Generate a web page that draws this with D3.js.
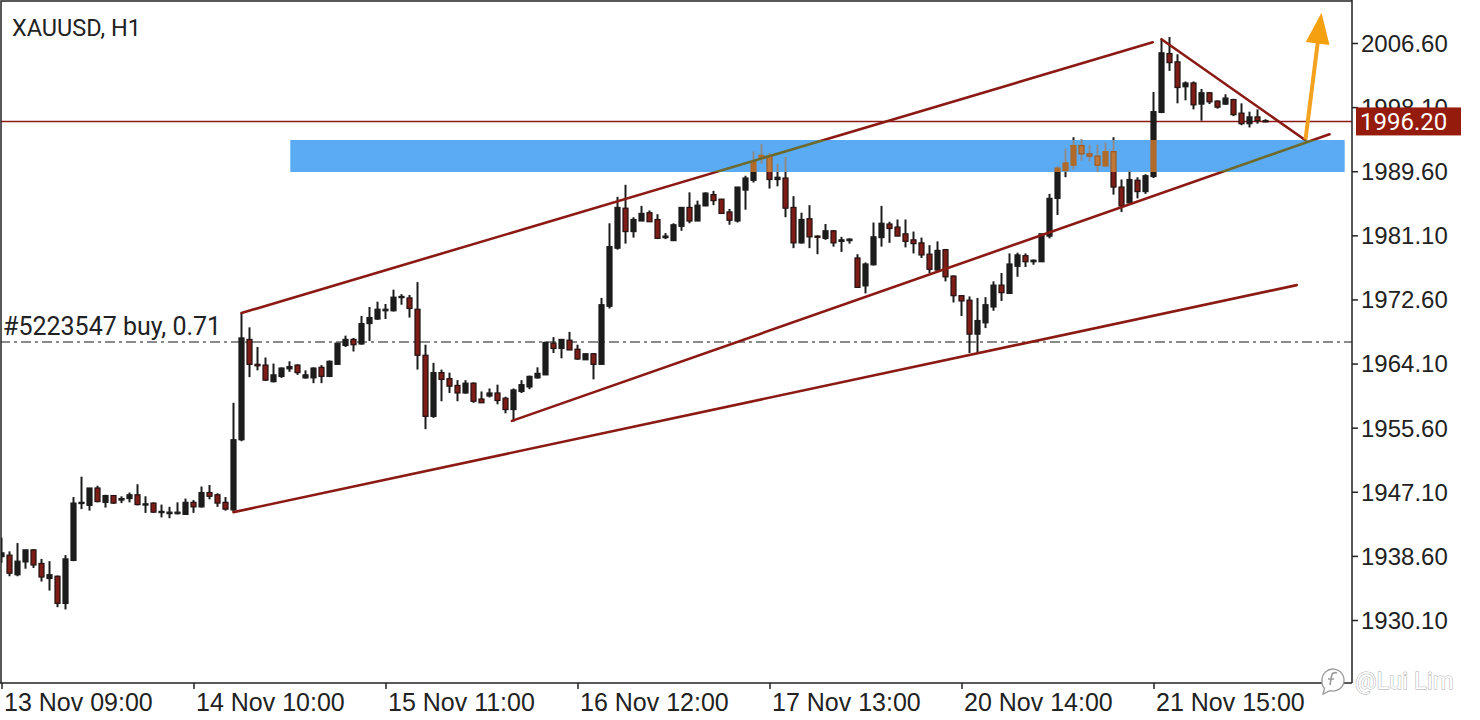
<!DOCTYPE html>
<html><head><meta charset="utf-8">
<script src="https://cdn.jsdelivr.net/npm/d3@7"></script>
<style>
html,body{margin:0;padding:0;background:#fff;}
svg{display:block;font-family:Roboto,"Noto Sans",sans-serif;}
</style>
</head><body>
<svg id="c" width="1480" height="720"></svg>
<script>
// ---- data ----
const symbolTitle = "XAUUSD, H1";
const opens = [1938.5,1938.7,1936.1,1937.8,1939.4,1937.6,1935.6,1935.9,1932.3,1938.0,
1945.6,1945.3,1947.6,1945.7,1946.6,1946.0,1946.2,1946.7,1945.4,1945.6,
1944.4,1944.2,1944.2,1944.1,1945.7,1945.1,1947.0,1946.7,1945.7,1944.7,
1954.0,1967.3,1964.0,1963.9,1961.7,1962.4,1963.4,1963.9,1962.2,1962.2,
1963.6,1962.4,1964.0,1966.5,1967.3,1966.7,1969.4,1970.0,1971.1,1971.1,
1972.9,1972.8,1971.3,1965.2,1957.1,1962.9,1962.1,1961.2,1960.2,1961.5,
1959.4,1959.8,1960.2,1959.5,1958.0,1960.4,1961.0,1962.2,1962.6,1966.8,
1966.1,1967.2,1966.0,1964.6,1965.4,1964.0,1971.7,1979.4,1984.7,1981.6,
1983.0,1984.1,1983.2,1980.8,1980.4,1982.3,1984.8,1983.0,1985.0,1986.5,
1985.9,1984.2,1983.0,1987.1,1988.4,1991.3,1991.6,1988.5,1988.7,1984.8,
1980.1,1983.3,1981.0,1980.7,1981.7,1980.3,1980.4,1978.1,1974.4,1977.2,
1980.8,1982.6,1982.2,1981.3,1980.5,1980.1,1978.6,1976.5,1979.2,1975.7,
1973.1,1972.5,1968.0,1969.5,1971.6,1974.5,1973.4,1977.0,1978.4,1977.6,
1977.6,1981.0,1986.0,1989.7,1990.4,1993.0,1991.9,1991.6,1990.3,1992.2,
1987.5,1985.4,1988.4,1986.9,1988.9,1997.4,2005.2,2004.1,2000.8,2001.3,
1998.5,2000.0,1998.9,1998.5,1999.1,1997.3,1995.9,1996.8,1996.3];
const highs = [1941.0,1939.2,1940.3,1939.4,1939.5,1938.2,1937.9,1936.0,1938.7,1946.4,
1949.1,1947.6,1947.9,1946.7,1946.6,1946.5,1947.0,1948.1,1946.5,1945.7,
1945.4,1945.1,1945.7,1946.2,1946.0,1947.8,1948.0,1946.9,1946.4,1958.9,
1970.8,1968.9,1966.3,1964.9,1964.1,1963.6,1964.4,1964.0,1963.2,1963.6,
1963.9,1964.5,1966.8,1967.8,1967.5,1970.4,1971.6,1972.3,1972.0,1973.9,
1973.3,1973.2,1974.9,1966.6,1964.2,1963.3,1962.9,1961.9,1961.9,1961.6,
1960.4,1960.8,1961.3,1959.7,1960.8,1961.9,1962.5,1963.6,1967.0,1967.6,
1967.3,1968.3,1966.6,1965.4,1965.5,1972.8,1982.7,1986.2,1987.8,1983.5,
1985.0,1984.4,1983.9,1981.4,1982.7,1984.8,1986.8,1985.7,1986.8,1987.0,
1985.9,1984.6,1987.5,1989.0,1992.2,1993.2,1992.0,1990.6,1991.5,1986.3,
1984.1,1985.1,1981.1,1982.6,1981.8,1980.9,1980.7,1978.6,1977.5,1982.8,
1985.0,1982.9,1983.2,1983.2,1981.6,1980.8,1979.8,1980.3,1979.3,1975.8,
1973.1,1973.0,1972.8,1972.9,1975.0,1976.1,1978.7,1978.8,1978.7,1977.9,
1981.3,1986.6,1990.3,1992.6,1994.1,1993.8,1993.1,1993.1,1993.4,1994.1,
1988.5,1989.7,1988.8,1989.2,2000.1,2007.1,2007.4,2005.1,2001.5,2001.5,
2000.5,2000.1,1999.0,1999.8,1999.2,1998.6,1997.5,1997.8,1996.5];
const lows = [1937.7,1935.9,1935.9,1936.9,1937.0,1935.2,1934.0,1931.8,1931.5,1937.9,
1944.8,1944.6,1945.7,1945.0,1945.5,1945.6,1945.7,1945.3,1944.3,1944.3,
1943.7,1943.6,1944.1,1944.1,1944.3,1945.0,1946.1,1945.1,1944.6,1944.4,
1953.8,1962.3,1963.2,1961.8,1961.6,1962.2,1963.0,1962.6,1962.1,1961.5,
1961.5,1962.3,1964.0,1966.3,1965.7,1966.6,1967.1,1969.9,1970.0,1971.0,
1971.9,1970.2,1963.3,1955.4,1956.9,1959.1,1960.2,1959.1,1960.1,1958.9,
1958.9,1959.6,1958.7,1957.5,1956.4,1960.2,1960.7,1962.1,1962.6,1965.5,
1964.8,1965.9,1964.6,1964.6,1962.0,1964.0,1971.4,1979.2,1980.0,1980.8,
1983.0,1982.9,1980.6,1980.6,1980.4,1981.7,1982.7,1983.0,1985.0,1985.1,
1984.0,1982.5,1982.8,1984.5,1988.1,1990.6,1987.3,1987.6,1983.5,1979.4,
1980.0,1979.4,1978.6,1980.5,1979.6,1978.9,1980.0,1974.2,1973.4,1977.1,
1979.6,1980.1,1981.0,1979.5,1978.7,1978.1,1976.1,1976.4,1975.0,1972.2,
1970.4,1965.5,1965.5,1968.8,1971.1,1972.4,1973.4,1975.6,1976.9,1977.2,
1977.6,1980.7,1983.8,1988.8,1989.8,1991.0,1990.9,1989.5,1990.2,1986.5,
1984.2,1985.3,1986.0,1986.6,1988.7,1997.3,2002.9,1998.6,1999.0,1997.8,
1996.3,1998.5,1997.9,1998.4,1996.9,1995.7,1995.4,1995.9,1996.1];
const closes = [1939.0,1936.3,1937.9,1939.4,1937.4,1935.8,1936.1,1932.3,1938.2,1945.6,
1945.7,1947.6,1945.8,1946.6,1945.6,1946.2,1946.7,1945.4,1945.5,1944.4,
1944.5,1944.4,1944.4,1945.7,1945.1,1947.0,1946.5,1945.6,1944.8,1954.0,
1967.5,1964.0,1963.8,1961.9,1962.6,1963.5,1963.7,1962.9,1962.6,1963.5,
1962.4,1964.4,1966.8,1967.3,1966.6,1969.4,1970.2,1971.3,1971.3,1972.9,
1973.0,1971.4,1965.2,1957.1,1962.9,1962.0,1961.1,1960.2,1961.5,1959.1,
1958.9,1960.2,1959.2,1958.0,1960.6,1961.3,1962.4,1962.8,1966.9,1966.1,
1967.3,1965.9,1964.7,1965.4,1964.0,1971.9,1979.6,1984.8,1981.6,1983.2,
1984.0,1982.9,1980.7,1981.0,1982.5,1984.8,1983.0,1985.1,1986.7,1985.7,
1984.0,1983.1,1987.5,1988.7,1990.9,1991.7,1988.5,1988.8,1984.7,1980.1,
1983.2,1980.9,1980.9,1981.7,1980.1,1980.5,1980.6,1974.2,1977.3,1980.9,
1982.7,1982.0,1981.0,1980.3,1980.0,1978.5,1976.6,1979.1,1975.6,1973.1,
1972.4,1968.0,1969.8,1971.9,1974.5,1973.5,1977.3,1978.5,1977.6,1977.8,
1981.3,1986.0,1990.0,1990.7,1993.0,1991.9,1991.6,1990.4,1992.2,1987.5,
1985.0,1988.5,1986.9,1989.0,1997.5,2005.3,2004.0,2000.7,2001.3,1998.4,
2000.0,1998.8,1998.1,1999.3,1997.1,1995.9,1996.8,1996.3,1996.2];

const timeTickBars = [0, 24, 48, 72, 96, 120, 144];
const timeTickLabels = ["13 Nov 09:00","14 Nov 10:00","15 Nov 11:00","16 Nov 12:00","17 Nov 13:00","20 Nov 14:00","21 Nov 15:00"];
const priceTicks = [2006.60, 1998.10, 1989.60, 1981.10, 1972.60, 1964.10, 1955.60, 1947.10, 1938.60, 1930.10];
const lastPrice = 1996.20;
const buyPrice = 1966.95;
const buyLabel = "#5223547 buy, 0.71";
// trend lines: [bar1, price1, bar2, price2]
const trendLines = [
  [30, 1970.8, 143.9, 2006.7],
  [63.8, 1956.5, 166, 1994.5],
  [29, 1944.4, 161.9, 1974.5],
  [145, 2007.1, 163, 1993.7]
];
const zoneBars = [36.1, 167.9];
const zonePrices = [1993.74, 1989.5];
const arrowPts = [163, 1993.8, 165.0, 2010.6];
const watermark = "@Lui Lim";

// ---- layout ----
const plotR = 1352, plotB = 683;
const svg = d3.select("#c");
const x = d3.scaleLinear().domain([0, 1]).range([1.5, 9.5]);
const y = d3.scaleLinear().domain([1930.10, 2006.60]).range([620, 43]);

const defs = svg.append("defs");
defs.append("clipPath").attr("id","plot").append("rect")
  .attr("x",1).attr("y",1).attr("width",plotR-1).attr("height",plotB-1);
defs.append("clipPath").attr("id","zone").append("rect")
  .attr("x",x(zoneBars[0])).attr("y",y(zonePrices[0]))
  .attr("width",x(zoneBars[1])-x(zoneBars[0])).attr("height",y(zonePrices[1])-y(zonePrices[0]));

svg.append("rect").attr("width",1480).attr("height",720).attr("fill","#ffffff");

const plot = svg.append("g").attr("clip-path","url(#plot)");

// buy line (dash-dot)
plot.append("line").attr("x1",0).attr("x2",plotR)
  .attr("y1",y(buyPrice)).attr("y2",y(buyPrice))
  .attr("stroke","#8a8a8a").attr("stroke-width",2).attr("stroke-dasharray","10,4,3,4");
// last price line
plot.append("line").attr("x1",0).attr("x2",plotR)
  .attr("y1",y(lastPrice)).attr("y2",y(lastPrice))
  .attr("stroke","#8b1a14").attr("stroke-width",1.6);

const idx = d3.range(opens.length);
function drawCandles(g, c) {
  g.selectAll("line.w").data(idx).join("line").attr("class","w")
    .attr("x1",i=>x(i)).attr("x2",i=>x(i))
    .attr("y1",i=>y(highs[i])).attr("y2",i=>y(lows[i]))
    .attr("stroke",c.wick).attr("stroke-width",2);
  g.selectAll("rect.b").data(idx).join("rect").attr("class","b")
    .attr("x",i=>x(i)-2.5).attr("width",5)
    .attr("y",i=>y(Math.max(opens[i],closes[i])))
    .attr("height",i=>Math.max(1.2, Math.abs(y(opens[i])-y(closes[i]))))
    .attr("fill",i=>closes[i]>=opens[i]?c.bull:c.bear)
    .attr("stroke",i=>closes[i]>=opens[i]?c.bull:c.bearStroke)
    .attr("stroke-width",1.2);
}
function drawTrend(g, color) {
  g.selectAll("line.t").data(trendLines).join("line").attr("class","t")
    .attr("x1",d=>x(d[0])).attr("y1",d=>y(d[1]))
    .attr("x2",d=>x(d[2])).attr("y2",d=>y(d[3]))
    .attr("stroke",color).attr("stroke-width",2.6).attr("stroke-linecap","round");
}
drawCandles(plot.append("g"), {wick:"#1c1c1c", bull:"#1c1c1c", bear:"#7c1d18", bearStroke:"#241212"});
drawTrend(plot.append("g"), "#8b1a14");

// zone rectangle and what is seen through it
plot.append("rect")
  .attr("x",x(zoneBars[0])).attr("y",y(zonePrices[0]))
  .attr("width",x(zoneBars[1])-x(zoneBars[0])).attr("height",y(zonePrices[1])-y(zonePrices[0]))
  .attr("fill","#5aabf3");
const zg = plot.append("g").attr("clip-path","url(#zone)");
drawCandles(zg.append("g"), {wick:"#8d8c8c", bull:"#b06a2a", bear:"#c0783a", bearStroke:"#a05a22"});
drawTrend(zg.append("g"), "#6e6a2e");

// orange arrow
{
  const x1=x(arrowPts[0]), y1=y(arrowPts[1]), x2=x(arrowPts[2]), y2=y(arrowPts[3]);
  const dx=x2-x1, dy=y2-y1, L=Math.hypot(dx,dy), ux=dx/L, uy=dy/L;
  const headL=31, headW=12;
  const bx=x2-ux*headL, by=y2-uy*headL;
  plot.append("line").attr("x1",x1).attr("y1",y1).attr("x2",bx+ux*2).attr("y2",by+uy*2)
    .attr("stroke","#f2a21e").attr("stroke-width",4);
  plot.append("path")
    .attr("d",`M${x2},${y2}L${bx-uy*headW},${by+ux*headW}L${bx+uy*headW},${by-ux*headW}Z`)
    .attr("fill","#f5a00f");
}

// frame
svg.append("path").attr("d",`M1,${plotB}V1H${plotR}`).attr("fill","none").attr("stroke","#222").attr("stroke-width",1.5);
svg.append("line").attr("x1",plotR).attr("x2",plotR).attr("y1",0).attr("y2",plotB).attr("stroke","#222").attr("stroke-width",1.5);
svg.append("line").attr("x1",0).attr("x2",plotR).attr("y1",plotB).attr("y2",plotB).attr("stroke","#222").attr("stroke-width",1.5);

// price axis
const yAxis = svg.append("g").attr("transform",`translate(${plotR},0)`)
  .call(d3.axisRight(y).tickValues(priceTicks).tickFormat(d3.format(".2f")).tickSize(6).tickPadding(3));
yAxis.select(".domain").remove();
yAxis.selectAll(".tick line").attr("stroke","#222").attr("stroke-width",1.5);
yAxis.selectAll(".tick text").attr("fill","#222").style("font-size","24px").attr("dy","0.35em");

// time axis
const xAxis = svg.append("g").attr("transform",`translate(0,${plotB})`)
  .call(d3.axisBottom(x).tickValues(timeTickBars).tickFormat((d,i)=>timeTickLabels[i]).tickSize(6).tickPadding(0));
xAxis.select(".domain").remove();
xAxis.selectAll(".tick line").attr("stroke","#222").attr("stroke-width",1.5);
xAxis.selectAll(".tick text").attr("fill","#222").style("font-size","25px")
  .attr("text-anchor","start").attr("x",2).attr("y",28).attr("dy",0);

// last price label
svg.append("rect").attr("x",1356).attr("y",y(lastPrice)-14).attr("width",105).attr("height",28).attr("fill","#951b0c");
svg.append("text").attr("x",1360).attr("y",y(lastPrice)).attr("dy","0.35em")
  .attr("fill","#ffffff").style("font-size","24px").text(lastPrice.toFixed(2));

// title and order label
svg.append("text").attr("x",12).attr("y",36).attr("fill","#222").style("font-size","23.5px").text(symbolTitle);
svg.append("text").attr("x",3).attr("y",y(buyPrice)-7).attr("fill","#222").style("font-size","25px").text(buyLabel);

// watermark
const wm = svg.append("g");
wm.append("path").attr("d","M1322,680a11,11 0 1,1 8,10.6l-7,3.4l1.5,-5.5a11,11 0 0,1 -2.5,-8.5z")
  .attr("fill","#ffffff").attr("stroke","#9a9a9a").attr("stroke-width",1.3);
wm.append("path").attr("d","M1337,673c-3,-1 -5,0 -5.5,3l-1.5,9M1328,679h6")
  .attr("fill","none").attr("stroke","#9a9a9a").attr("stroke-width",1.6);
wm.append("text").attr("x",1355).attr("y",689).style("font-size","24px")
  .attr("fill","#ffffff").attr("stroke","#a8a8a8").attr("stroke-width",0.9).attr("paint-order","stroke").text(watermark);
</script>
</body></html>
